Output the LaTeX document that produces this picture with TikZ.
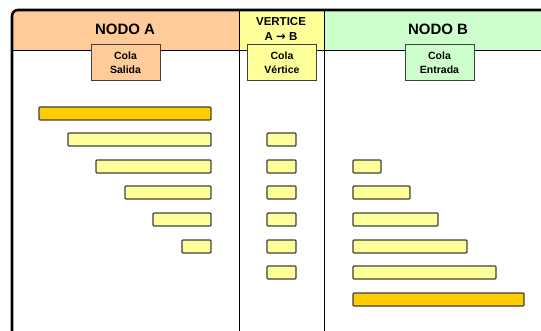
\documentclass[tikz,border=0pt]{standalone}
\usepackage{fontspec}
\setmainfont{Liberation Sans}
\newfontfamily\arrowfont{DejaVu Sans}
\definecolor{peach}{HTML}{FFCC99}
\definecolor{paleyel}{HTML}{FFFF99}
\definecolor{palegreen}{HTML}{CCFFCC}
\definecolor{gold}{HTML}{FFCC00}
\tikzset{
  head/.style={font=\bfseries\fontsize{15}{17}\selectfont, align=center},
  cola/.style={draw=black!75, line width=1pt, minimum width=69pt, minimum height=36pt,
    inner sep=0pt, font=\bfseries\fontsize{10.5}{14}\selectfont, align=center},
  bar/.style={draw=black!75, line width=1.2pt, fill=paleyel, rounded corners=1pt},
  bigbar/.style={bar, fill=gold}
}
\begin{document}
\begin{tikzpicture}[x=1pt,y=-1pt]
  \useasboundingbox (0,0) rectangle (541,331);
  \clip (0,0) rectangle (541,331);

  \begin{scope}
    \clip[rounded corners=6pt] (12,10) rectangle (600,400);
    \fill[white] (12,10) rectangle (600,400);
    \fill[peach] (12,10) rectangle (239,50);
    \fill[paleyel] (239,10) rectangle (324,50);
    \fill[palegreen] (324,10) rectangle (600,50);
  \end{scope}
  \draw[line width=0.8pt] (12,50) -- (600,50); % header line
  \draw[line width=0.8pt] (239,10) -- (239,400);
  \draw[line width=0.8pt] (324,10) -- (324,400);
  \draw[line width=2.6pt, rounded corners=6pt] (12,400) -- (12,10) -- (600,10);

  \node[head] (nodoA) at (125,29) {NODO A};
  \node[head, font=\bfseries\fontsize{11.5}{15}\selectfont] (vertice) at (281,29)
    {VERTICE\\A {\arrowfont\bfseries →} B};
  \node[head] (nodoB) at (438,29) {NODO B};

  \node[cola, fill=peach] (salida) at (125.5,63) {Cola\\Salida};
  \node[cola, fill=paleyel] (colavert) at (282,63) {Cola\\Vértice};
  \node[cola, fill=palegreen] (entrada) at (439.5,63) {Cola\\Entrada};

  % cola de salida
  \draw[bigbar] (39,107) rectangle (211,120);
  \draw[bar] (68,133) rectangle (211,146);
  \draw[bar] (96,160) rectangle (211,173);
  \draw[bar] (125,186) rectangle (211,199);
  \draw[bar] (153,213) rectangle (211,226);
  \draw[bar] (182,240) rectangle (211,253);

  % cola del vertice
  \draw[bar] (267,133) rectangle (296,146);
  \draw[bar] (267,160) rectangle (296,173);
  \draw[bar] (267,186) rectangle (296,199);
  \draw[bar] (267,213) rectangle (296,226);
  \draw[bar] (267,240) rectangle (296,253);
  \draw[bar] (267,266) rectangle (296,279);

  % cola de entrada
  \draw[bar] (353,160) rectangle (381,173);
  \draw[bar] (353,186) rectangle (410,199);
  \draw[bar] (353,213) rectangle (438,226);
  \draw[bar] (353,240) rectangle (467,253);
  \draw[bar] (353,266) rectangle (496,279);
  \draw[bigbar] (353,293) rectangle (524,306);
\end{tikzpicture}
\end{document}
